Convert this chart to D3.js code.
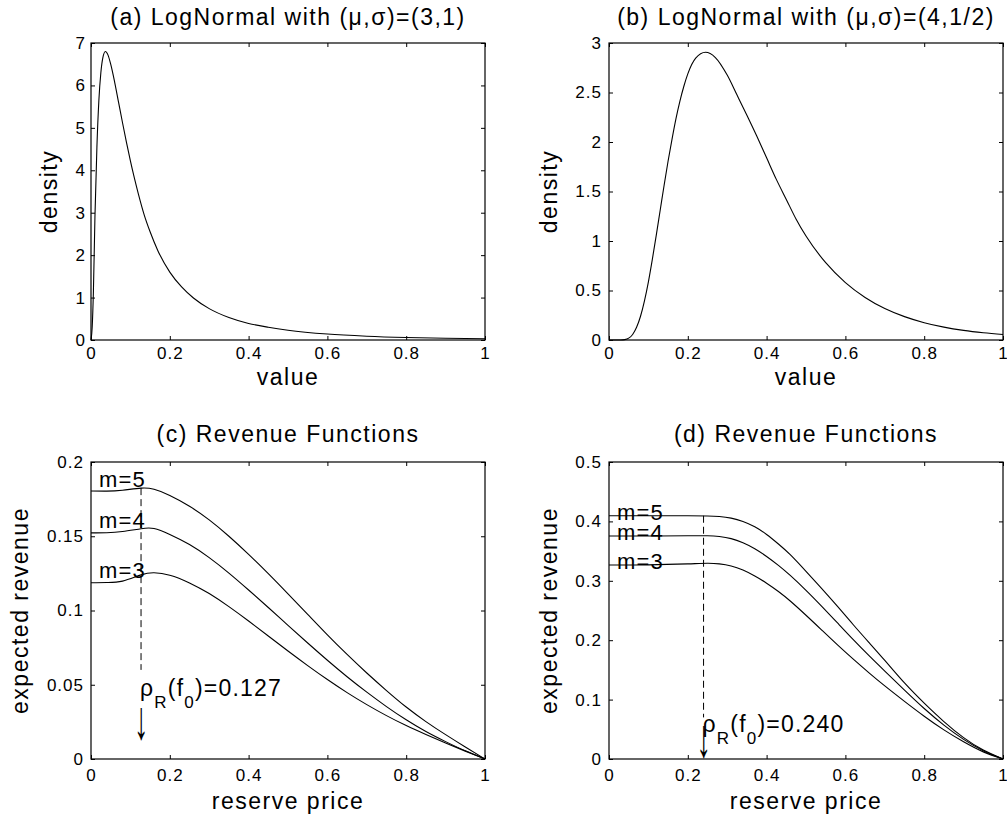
<!DOCTYPE html>
<html>
<head>
<meta charset="utf-8">
<script src="https://cdn.jsdelivr.net/npm/d3@7"></script>
<style>
  body { margin: 0; background: #fff; }
  text { font-family: "Liberation Sans", Arial, Helvetica, sans-serif; fill: #000; }
</style>
</head>
<body>
<svg id="chart" width="1007" height="825"></svg>
<script>
// ---- data ----
var densAX = [0, .003, .006, .01, .015, .02, .025, .03, .0365, .043, .05, .06, .07, .08, .09, .1, .11, .12, .135, .15, .17, .2, .23, .26, .3, .35, .4, .45, .5, .6, .7, .8, .9, 1];
var densAY = [0, .3, 1.1, 2.9, 4.55, 5.65, 6.3, 6.65, 6.8, 6.72, 6.5, 6.08, 5.6, 5.12, 4.66, 4.22, 3.82, 3.45, 2.95, 2.55, 2.1, 1.6, 1.25, .99, .74, .53, .39, .3, .23, .14, .09, .06, .042, .03];

var densBX = [0, .03, .04, .05, .06, .07, .08, .09, .1, .11, .12, .13, .14, .15, .16, .17, .18, .19, .2, .22,
              .245, .27, .3, .325, .35, .375, .4, .425, .45, .475, .5, .55, .6, .65, .7, .75, .8, .85, .9, .95, 1];
var densBY = [0, 0, .004, .019, .056, .128, .24, .396, .588, .815, 1.059, 1.313, 1.566, 1.808, 2.03, 2.236, 2.413, 2.563, 2.688, 2.847,
              2.906, 2.853, 2.676, 2.474, 2.27, 2.06, 1.84, 1.62, 1.42, 1.22, 1.05, .781, .58, .43, .318, .236, .175, .13, .097, .073, .055];

var revCX  = [0, .04, .08, .127, .16, .2, .25, .3, .35, .4, .45, .5, .55, .6, .65, .7, .75, .8, .85, .9, .95, 1];
var revCm5 = [.1805, .1804, .181, .1824, .1816, .1775, .1702, .161, .15, .1378, .1248, .1112, .0974, .0836, .0704, .0579, .0461, .035, .0252, .0164, .0081, 0];
var revCm4 = [.1523, .1524, .1532, .1551, .1552, .1512, .1444, .1356, .1252, .1138, .102, .09, .0781, .0665, .0554, .045, .0353, .0264, .0185, .0117, .0055, 0];
var revCm3 = [.1187, .1189, .1198, .124, .1254, .1238, .1186, .1114, .1026, .0929, .0828, .0727, .0629, .0535, .0447, .0366, .0292, .0225, .0165, .0108, .0053, 0];

var revDX  = [0, .1, .2, .25, .28, .31, .34, .37, .4, .43, .46, .5, .54, .58, .62, .66, .7, .75, .8, .85, .9, .95, 1];
var revDm5 = [.4096, .4096, .4095, .4092, .4082, .4055, .4, .391, .378, .362, .344, .316, .287, .257, .226, .196, .166, .128, .094, .063, .036, .015, 0];
var revDm4 = [.3753, .3754, .3758, .3758, .3745, .371, .364, .354, .341, .326, .309, .284, .257, .229, .201, .174, .148, .116, .085, .057, .033, .014, 0];
var revDm3 = [.3265, .3268, .3285, .3295, .3285, .325, .318, .308, .296, .282, .266, .242, .217, .192, .168, .145, .123, .097, .072, .049, .029, .012, 0];

var mLabels = ['m=5', 'm=4', 'm=3'];
var rhoC = 0.127, rhoD = 0.240;
var rhoLabels = ['0.127', '0.240'];

var xTicks = [0, .2, .4, .6, .8, 1];
var xTickLabels = ['0', '0.2', '0.4', '0.6', '0.8', '1'];
var yTicksA = [0, 1, 2, 3, 4, 5, 6, 7];
var yTickLabelsA = ['0', '1', '2', '3', '4', '5', '6', '7'];
var yTicksB = [0, .5, 1, 1.5, 2, 2.5, 3];
var yTickLabelsB = ['0', '0.5', '1', '1.5', '2', '2.5', '3'];
var yTicksC = [0, .05, .1, .15, .2];
var yTickLabelsC = ['0', '0.05', '0.1', '0.15', '0.2'];
var yTicksD = [0, .1, .2, .3, .4, .5];
var yTickLabelsD = ['0', '0.1', '0.2', '0.3', '0.4', '0.5'];

var titles = ['(a) LogNormal with (\u03bc,\u03c3)=(3,1)', '(b) LogNormal with (\u03bc,\u03c3)=(4,1/2)',
              '(c) Revenue Functions', '(d) Revenue Functions'];

// ---- drawing ----
var svg = d3.select('#chart');
svg.append('rect').attr('width', 1007).attr('height', 825).attr('fill', '#fff');

var tickFont = 17, bigFont = 23;

function zip(xs, ys) {
    return xs.map(function(d, i){ return [d, ys[i]]; });
}

function panel(o) {
    var g = svg.append('g');
    var x = d3.scaleLinear().domain([0, 1]).range([o.left, o.right]);
    var y = d3.scaleLinear().domain(o.yDomain).range([o.bottom, o.top]);

    function styleAxis(a) {
        a.select('.domain').remove();
        a.attr('font-size', tickFont)
         .attr('font-family', '"Liberation Sans", Arial, Helvetica, sans-serif')
         .style('letter-spacing', '1px');
    }

    g.append('g').attr('transform', 'translate(0,' + o.bottom + ')')
        .call(d3.axisBottom(x).tickValues(xTicks)
            .tickFormat(function(d, i){ return xTickLabels[i]; })
            .tickSizeInner(-4).tickSizeOuter(0).tickPadding(o.xPad))
        .call(styleAxis);
    g.append('g').attr('transform', 'translate(0,' + o.top + ')')
        .call(d3.axisTop(x).tickValues(xTicks).tickFormat('')
            .tickSizeInner(-4).tickSizeOuter(0))
        .call(styleAxis);
    g.append('g').attr('transform', 'translate(' + o.left + ',0)')
        .call(d3.axisLeft(y).tickValues(o.yTicks)
            .tickFormat(function(d, i){ return o.yTickLabels[i]; })
            .tickSizeInner(-4).tickSizeOuter(0).tickPadding(o.yPad))
        .call(styleAxis);
    g.append('g').attr('transform', 'translate(' + o.right + ',0)')
        .call(d3.axisRight(y).tickValues(o.yTicks).tickFormat('')
            .tickSizeInner(-4).tickSizeOuter(0))
        .call(styleAxis);

    g.append('rect')
        .attr('x', o.left).attr('y', o.top)
        .attr('width', o.right - o.left).attr('height', o.bottom - o.top)
        .attr('fill', 'none').attr('stroke', '#000').attr('stroke-width', 1.2);

    var line = d3.line()
        .x(function(d){ return x(d[0]); })
        .y(function(d){ return y(d[1]); })
        .curve(o.curve);

    g.selectAll('path.curve')
        .data(o.series).enter()
        .append('path').attr('class', 'curve')
        .attr('d', line)
        .attr('fill', 'none').attr('stroke', '#000').attr('stroke-width', 1.1);

    // title and axis labels
    g.append('text')
        .attr('x', (o.left + o.right) / 2).attr('y', o.titleY)
        .attr('text-anchor', 'middle').attr('font-size', bigFont)
        .style('letter-spacing', '1.5px')
        .text(o.title);
    g.append('text')
        .attr('x', (o.left + o.right) / 2).attr('y', o.xLabelY)
        .attr('text-anchor', 'middle').attr('font-size', bigFont)
        .style('letter-spacing', '1.5px')
        .text(o.xLabel);
    g.append('text')
        .attr('transform', 'translate(' + o.yLabelX + ',' + ((o.top + o.bottom) / 2) + ') rotate(-90)')
        .attr('text-anchor', 'middle').attr('font-size', bigFont)
        .style('letter-spacing', '1.5px')
        .text(o.yLabel);

    return {g: g, x: x, y: y};
}

var boxA = {left: 91, right: 485, top: 43, bottom: 340};
var boxB = {left: 609, right: 1003, top: 43, bottom: 340};
var boxC = {left: 91, right: 485, top: 462, bottom: 759};
var boxD = {left: 609, right: 1003, top: 462, bottom: 759};

panel(Object.assign({}, boxA, {
    yDomain: [0, 7], yTicks: yTicksA, yTickLabels: yTickLabelsA, yPad: 5, xPad: 7,
    series: [zip(densAX, densAY)], curve: d3.curveMonotoneX,
    title: titles[0], titleY: 25, xLabel: 'value', xLabelY: 385,
    yLabel: 'density', yLabelX: 57
}));

panel(Object.assign({}, boxB, {
    yDomain: [0, 3], yTicks: yTicksB, yTickLabels: yTickLabelsB, yPad: 7, xPad: 7,
    series: [zip(densBX, densBY)], curve: d3.curveMonotoneX,
    title: titles[1], titleY: 25, xLabel: 'value', xLabelY: 385,
    yLabel: 'density', yLabelX: 557
}));

var pc = panel(Object.assign({}, boxC, {
    yDomain: [0, 0.2], yTicks: yTicksC, yTickLabels: yTickLabelsC, yPad: 7, xPad: 10,
    series: [zip(revCX, revCm5), zip(revCX, revCm4), zip(revCX, revCm3)], curve: d3.curveNatural,
    title: titles[2], titleY: 442, xLabel: 'reserve price', xLabelY: 809,
    yLabel: 'expected revenue', yLabelX: 28
}));

var pd = panel(Object.assign({}, boxD, {
    yDomain: [0, 0.5], yTicks: yTicksD, yTickLabels: yTickLabelsD, yPad: 7, xPad: 10,
    series: [zip(revDX, revDm5), zip(revDX, revDm4), zip(revDX, revDm3)], curve: d3.curveNatural,
    title: titles[3], titleY: 442, xLabel: 'reserve price', xLabelY: 809,
    yLabel: 'expected revenue', yLabelX: 557
}));

// annotations on the revenue panels
function annotate(p, starts, offset, rho, rhoTop, rhoBottom, label, textY, arrowY) {
    p.g.selectAll('text.mlab')
        .data(mLabels).enter()
        .append('text').attr('class', 'mlab')
        .attr('x', p.x(0.02))
        .attr('y', function(d, i){ return p.y(starts[i] + offset); })
        .attr('font-size', 22)
        .style('letter-spacing', '1.2px')
        .text(function(d){ return d; });

    p.g.append('line')
        .attr('x1', p.x(rho)).attr('x2', p.x(rho))
        .attr('y1', p.y(rhoTop)).attr('y2', p.y(rhoBottom))
        .attr('stroke', '#000').attr('stroke-width', 1)
        .attr('stroke-dasharray', '7,4');

    var t = p.g.append('text')
        .attr('x', p.x(rho) - 1).attr('y', textY)
        .attr('font-size', bigFont)
        .style('letter-spacing', '1.2px');
    t.append('tspan').text('\u03c1');
    t.append('tspan').attr('dy', 12).attr('font-size', 17).text('R');
    t.append('tspan').attr('dy', -12).text('(f');
    t.append('tspan').attr('dy', 12).attr('font-size', 17).text('0');
    t.append('tspan').attr('dy', -12).text(')=' + label);

    // the down arrow glyph, stretched to the tall thin shape of the original
    p.g.append('text')
        .attr('transform', 'translate(' + p.x(rho) + ',' + arrowY + ') scale(1.1,2.1)')
        .attr('text-anchor', 'middle').attr('font-size', 26)
        .attr('font-family', '"DejaVu Sans", sans-serif')
        .text('\u2193');
}

annotate(pc, [revCm5[0], revCm4[0], revCm3[0]], 0.003, rhoC, revCm5[3], 0.06, rhoLabels[0], 696, 739);
annotate(pd, [revDm5[0], revDm4[0], revDm3[0]], -0.007, rhoD, revDm5[2], 0.07, rhoLabels[1], 732, 757);
</script>
</body>
</html>
